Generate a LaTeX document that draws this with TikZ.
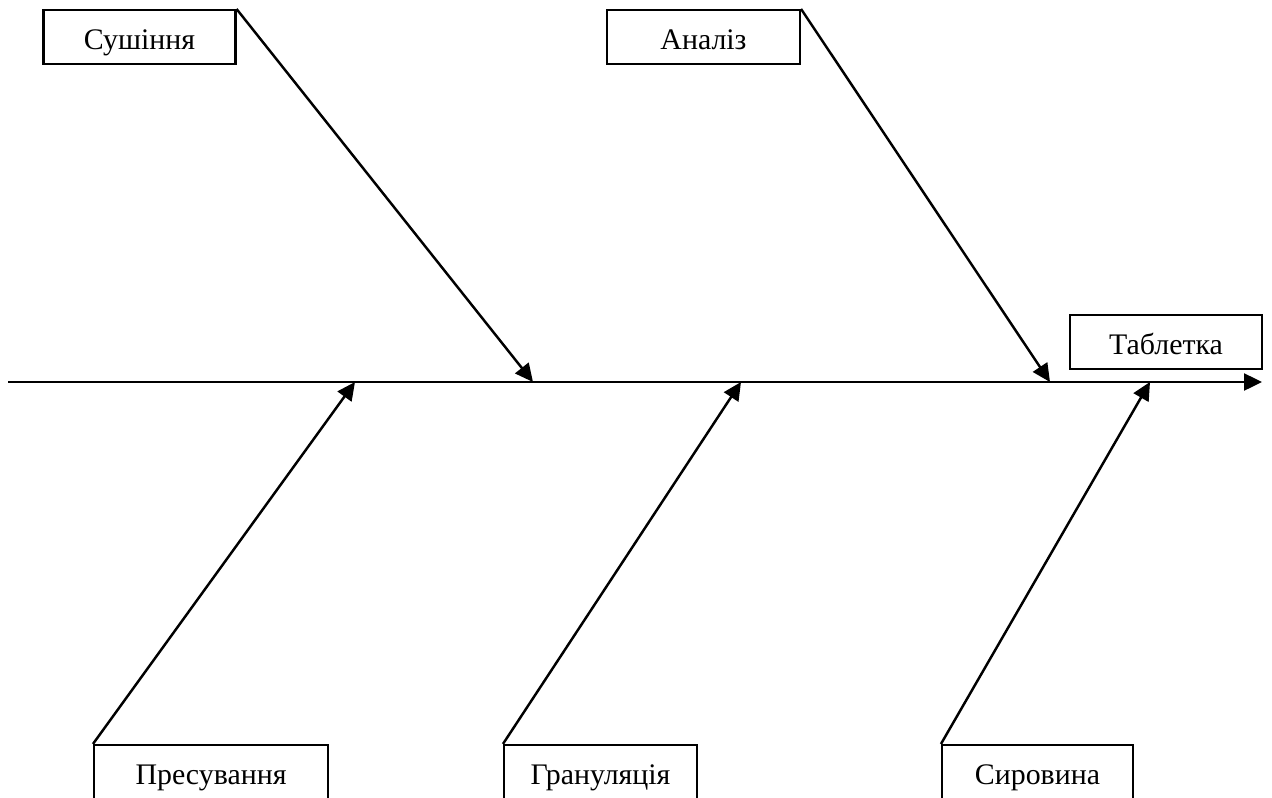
\documentclass[tikz,border=0pt]{standalone}
\usepackage{fontspec}
\setmainfont{Liberation Serif}
\usetikzlibrary{arrows.meta}

\begin{document}
\begin{tikzpicture}[x=0.02cm,y=-0.02cm,
    box/.style={draw,line width=1.2pt,minimum height=1.08cm,inner sep=0pt,text height=14.6pt,text depth=0pt,font=\fontsize{17}{20}\selectfont},
    bone/.style={line width=1.4pt,-{Triangle[length=0.36cm,width=0.34cm]}}]
          \useasboundingbox (0,0) rectangle (1272,798);
          \clip (0,0) rectangle (1272,798);
          % boxes
          \node[box,minimum width=3.84cm] (Sush) at (139.5,37) {Сушіння};
          \node[box,minimum width=3.86cm] (Anal) at (703.5,37) {Аналіз};
          \node[box,minimum width=3.84cm] (Tabl) at (1166,342) {Таблетка};
          \node[box,minimum width=4.68cm] (Pres) at (211,772) {Пресування};
          \node[box,minimum width=3.86cm] (Gran) at (600.5,772) {Грануляція};
          \node[box,minimum width=3.82cm] (Syro) at (1037.5,772) {Сировина};
          % axis
          \coordinate (A0) at (8,382);
          \coordinate (A1) at (1262,382);
          \coordinate (tS) at (533,382);
          \coordinate (tA) at (1050,382);
          \coordinate (tP) at (355,382);
          \coordinate (tG) at (741,382);
          \coordinate (tC) at (1150,382);
          \draw[bone] (A0) -- (A1);
          \draw[bone] (Sush.north east) -- (tS);
          \draw[bone] (Anal.north east) -- (tA);
          \draw[bone] (Pres.north west) -- (tP);
          \draw[bone] (Gran.north west) -- (tG);
          \draw[bone] (Syro.north west) -- (tC);
        \end{tikzpicture}
\end{document}
